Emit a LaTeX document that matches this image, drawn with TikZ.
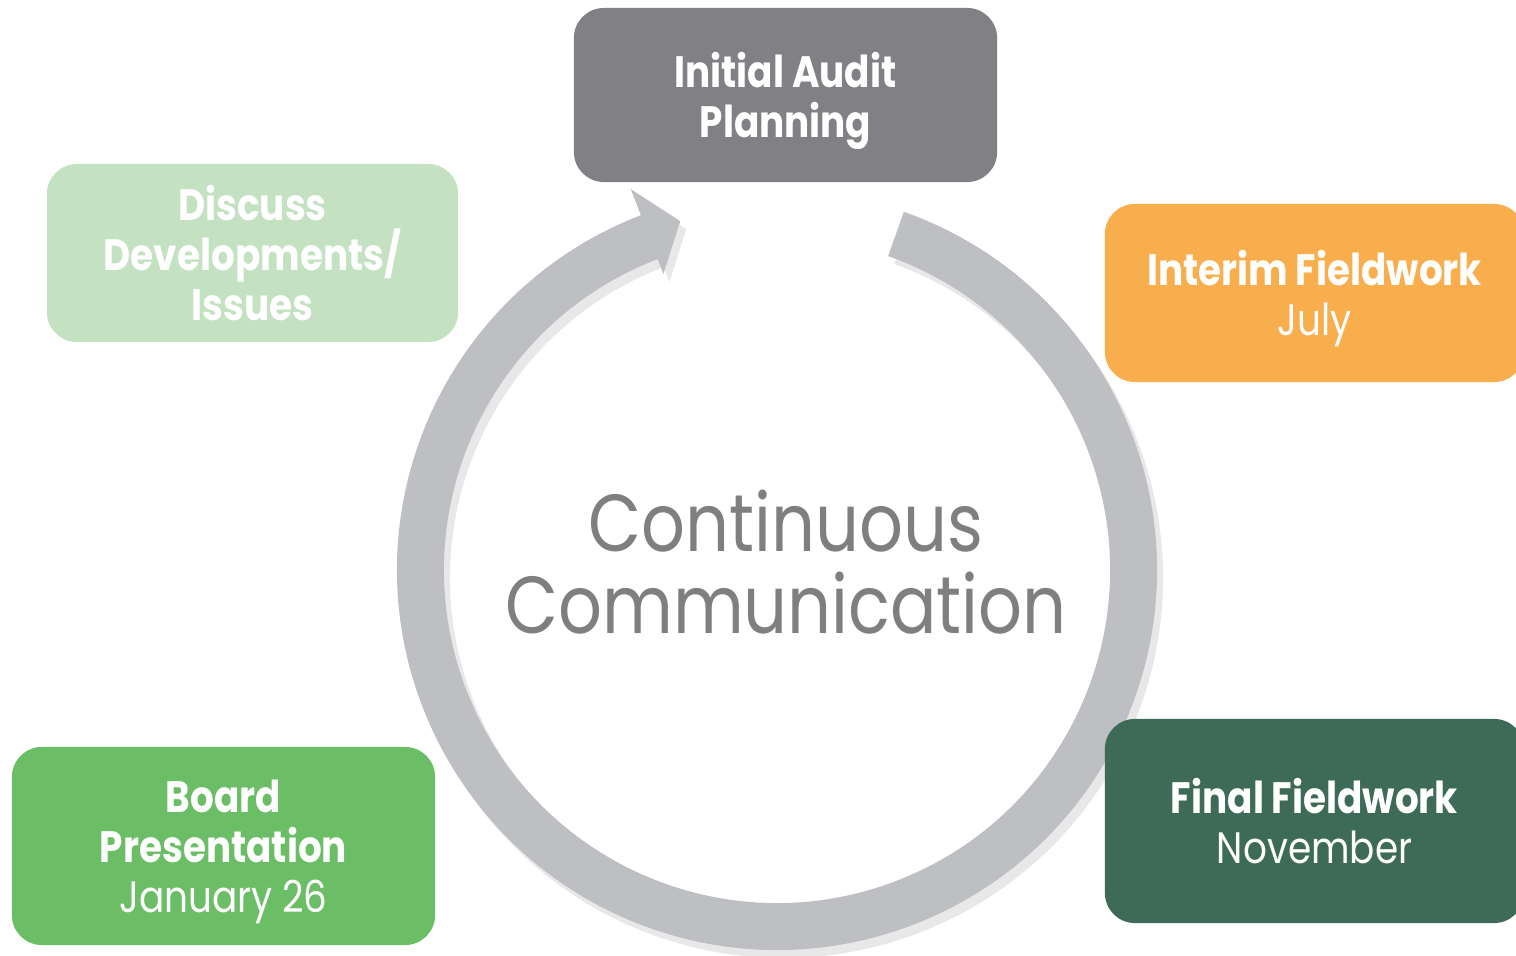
\documentclass[tikz,border=0pt]{standalone}
\usepackage{fontspec}
\setmainfont{Poppins}[FakeStretch=0.85]
\usepackage{tikz}
\usetikzlibrary{shadows}

\definecolor{auditgray}{HTML}{818185}
\definecolor{ringgray}{HTML}{BEBFC3}
\definecolor{palegreen}{HTML}{C4E2C2}
\definecolor{interimorange}{HTML}{F9AE4E}
\definecolor{darkgreen}{HTML}{3D6B57}
\definecolor{boardgreen}{HTML}{6BBE66}
\definecolor{centergray}{HTML}{7F7F7F}

\begin{document}
\begin{tikzpicture}[x=0.01cm, y=0.01cm,
    phase/.style={rounded corners=0.3cm, text=white, align=center,
        inner sep=0pt, font=\fontsize{12.5}{14.2}\selectfont\bfseries},
    ring/.style={fill=ringgray, drop shadow={shadow xshift=0.06cm,
        shadow yshift=-0.08cm, opacity=0.18}}]
    \useasboundingbox (0, 0) rectangle (1516, 955);
    \coordinate (C) at (777, 385);
    \begin{scope}[shift={(C)}]
        \fill[ring] (70.5:380) arc[start angle=70.5, end angle=-249, radius=380]
            -- (-249:408) -- (-254.5:362) -- (-249:317) -- (-249:333)
            arc[start angle=-249, end angle=70.5, radius=333] -- cycle;
    \end{scope}
    \node[text=centergray, align=center, font=\fontsize{23}{23.3}\selectfont]
        (center) at (786, 393) {Continuous\\Communication};
    \node[phase, fill=auditgray, minimum width=4.23cm, minimum height=1.74cm,
        text depth=0pt]
        (audit) at (785.5, 860) {Initial Audit\\Planning};
    \node[phase, fill=palegreen, minimum width=4.11cm, minimum height=1.78cm]
        (discuss) at (252.5, 702) {Discuss\\Developments/\\Issues};
    \node[phase, fill=interimorange, minimum width=4.19cm, minimum height=1.78cm,
        text depth=0pt]
        (interim) at (1314.5, 662) {Interim Fieldwork\\{\mdseries July}};
    \node[phase, fill=darkgreen, minimum width=4.19cm, minimum height=2.04cm]
        (final) at (1314.5, 134) {Final Fieldwork\\{\mdseries November}};
    \node[phase, fill=boardgreen, minimum width=4.23cm, minimum height=1.98cm,
        text depth=0pt]
        (board) at (223.5, 109) {Board\\Presentation\\{\mdseries January 26}};
\end{tikzpicture}
\end{document}
